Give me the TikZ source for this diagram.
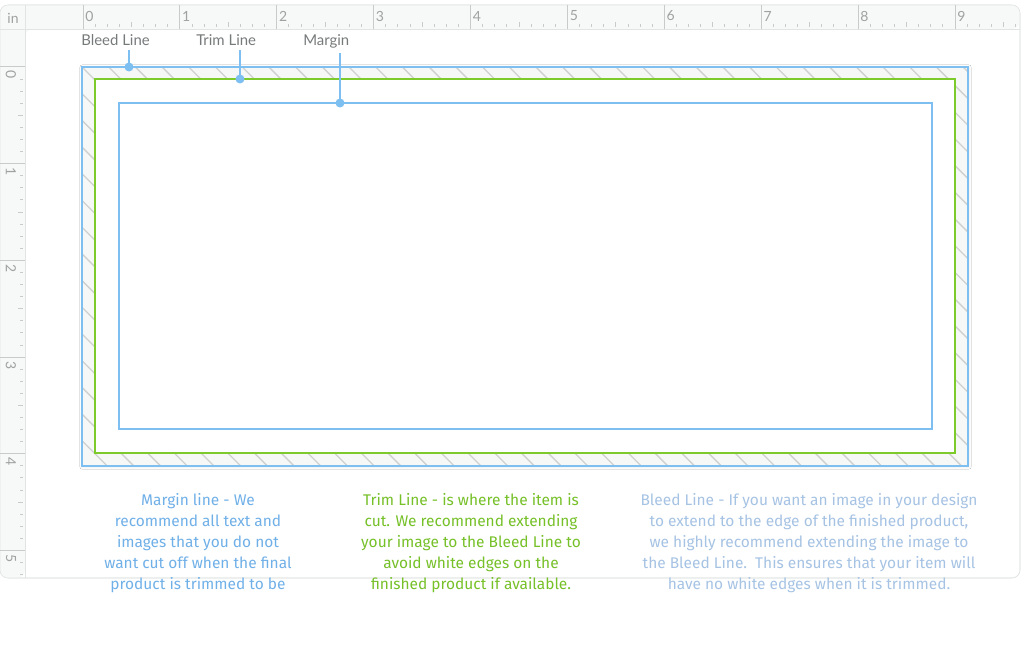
\documentclass[tikz,border=0pt]{standalone}
\usepackage{fontspec}
\setmainfont{Lato}
\newfontfamily\noteFont{Fira Sans}
\usepackage{xcolor}
\usetikzlibrary{positioning, calc, shadows.blur}
\definecolor{rulerFill}{HTML}{F7F8F8}
\definecolor{rulerEdge}{HTML}{E2E4E4}
\definecolor{tickGray}{HTML}{C9CBCB}
\definecolor{digitGray}{HTML}{A0A2A2}
\definecolor{tagGray}{HTML}{777A7B}
\definecolor{lineBlue}{HTML}{7EBFF2}
\definecolor{lineGreen}{HTML}{7DCB2A}
\definecolor{hatchGray}{HTML}{CFD1D1}
\definecolor{bandFill}{HTML}{F6F7F7}
\definecolor{noteBlue}{HTML}{70B0E8}
\definecolor{noteGreen}{HTML}{76C028}
\definecolor{noteFaded}{HTML}{A6C3E4}
\tikzset{
    rulerTick/.style={draw=tickGray, line width=0.75pt},
    rulerDigit/.style={text=digitGray, font=\fontsize{10.5}{12}\selectfont, inner sep=0pt},
    tagText/.style={text=tagGray, font=\fontsize{11.2}{13}\selectfont, inner sep=0pt},
    pinLine/.style={draw=lineBlue, line width=0.9pt},
    pinDot/.style={fill=lineBlue},
    hatchLine/.style={draw=hatchGray, line width=1pt},
    noteText/.style={align=center, inner sep=0pt, font=\noteFont\fontsize{11.6}{15.75}\selectfont}
}

\begin{document}
\begin{tikzpicture}[x=0.75pt, y=-0.75pt]
    \useasboundingbox (0,0) rectangle (1024,666);
    % --- canvas and rulers ---
    \draw[rulerEdge, fill=white, rounded corners=6] (0,5) rectangle (1020,578);
    \fill[rulerFill, rounded corners=6] (0,5) -- (1020,5) -- (1020,29) -- (25,29) -- (25,578) -- (0,578) -- cycle;
    \draw[rulerEdge] (25,29) -- (1020,29) (25,5) -- (25,578) (0,29) -- (25,29);
    \draw[rulerEdge, rounded corners=6] (0,5) rectangle (1020,578);
    \node[rulerDigit] (unitTag) at (13,18) {in};
    \begin{scope}
        \clip (25,5) rectangle (1016,29);
        \foreach \i in {0,...,9} {
            \draw[rulerTick] ({83+\i*96.9},5) -- ({83+\i*96.9},29);
            \node[rulerDigit, anchor=west] at ({85+\i*96.9},16) {\i};
            \foreach \k in {1,...,7} {
                \ifnum\k=4
                    \draw[rulerTick] ({83+\i*96.9+\k*12.11},22) -- ++(0,5);
                \else
                    \draw[rulerTick] ({83+\i*96.9+\k*12.11},24) -- ++(0,3);
                \fi
            }
        }
    \end{scope}
    \begin{scope}
        \clip (0,29) rectangle (25,577);
        \foreach \j in {0,...,5} {
            \draw[rulerTick] (0,{67+\j*96.7}) -- (25,{67+\j*96.7});
            \node[rulerDigit, rotate=-90] at (11,{75+\j*96.7}) {\j};
            \foreach \k in {1,...,7} {
                \ifnum\k=4
                    \draw[rulerTick] (18,{67+\j*96.7+\k*12.09}) -- ++(5,0);
                \else
                    \draw[rulerTick] (20,{67+\j*96.7+\k*12.09}) -- ++(3,0);
                \fi
            }
        }
    \end{scope}
    % --- bleed band ---
    \fill[bandFill, blur shadow={shadow xshift=0.4pt, shadow yshift=-0.4pt, shadow blur steps=6, shadow opacity=12}] (82,67) rectangle (968,466);
    \begin{scope}
        \clip (82,67) rectangle (968,466);
        \foreach \i in {-16,...,34}
            \draw[hatchLine] ({82+\i*26.7},67) -- ++(420,420);
    \end{scope}
    \fill[white] (95,79) rectangle (955,453);
    % --- the three lines ---
    \draw[lineBlue, line width=1.6pt] (82,67) rectangle (968,466);
    \draw[lineGreen, line width=1.6pt] (95,79) rectangle (955,453);
    \draw[lineBlue, line width=1.6pt] (119,103) rectangle (932,429);
    % --- tags and pins ---
    \node[tagText, anchor=base west] (bleedTag) at (81,46) {Bleed Line};
    \node[tagText, anchor=base west] (trimTag) at (196,46) {Trim Line};
    \node[tagText, anchor=base west] (marginTag) at (303,46) {Margin};
    \coordinate (bleedPin) at (129,67);
    \coordinate (trimPin) at (240,79);
    \coordinate (marginPin) at (340,103);
    \draw[pinLine] ($(bleedPin |- bleedTag.south)+(0,4)$) -- (bleedPin);
    \draw[pinLine] ($(trimPin |- trimTag.south)+(0,4)$) -- (trimPin);
    \draw[pinLine] ($(marginPin |- marginTag.south)+(0,4)$) -- (marginPin);
    \foreach \p in {bleedPin, trimPin, marginPin}
        \fill[pinDot] (\p) circle (4.5);
    % --- notes ---
    \node[noteText, text=noteBlue] (marginNote) at (198,543) {Margin line - We\\recommend all text and\\images that you do not\\want cut off when the final\\product is trimmed to be};
    \node[noteText, text=noteGreen] (trimNote) at (471,543) {Trim Line - is where the item is\\cut. We recommend extending\\your image to the Bleed Line to\\avoid white edges on the\\finished product if available.};
    \node[noteText, text=noteFaded] (bleedNote) at (809,543) {Bleed Line - If you want an image in your design\\to extend to the edge of the finished product,\\we highly recommend extending the image to\\the Bleed Line.\ \ This ensures that your item will\\have no white edges when it is trimmed.};
\end{tikzpicture}
\end{document}
